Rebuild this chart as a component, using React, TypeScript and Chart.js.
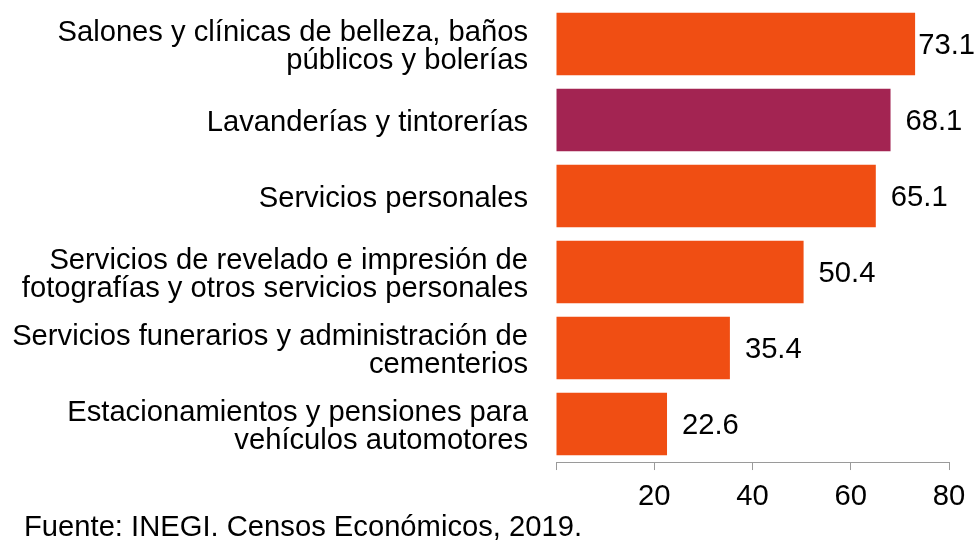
import React, { useEffect, useRef } from "react";
import { Chart, registerables } from "chart.js";

Chart.register(...registerables);

const categories: (string | string[])[] = [
  ["Salones y clínicas de belleza, baños", "públicos y bolerías"],
  "Lavanderías y tintorerías",
  "Servicios personales",
  ["Servicios de revelado e impresión de", "fotografías y otros servicios personales"],
  ["Servicios funerarios y administración de", "cementerios"],
  ["Estacionamientos y pensiones para", "vehículos automotores"],
];
const values = [73.1, 68.1, 65.1, 50.4, 35.4, 22.6];
const barColors = ["#F04E13", "#A32452", "#F04E13", "#F04E13", "#F04E13", "#F04E13"];
const xTicks = [0, 20, 40, 60, 80];
const source = "Fuente: INEGI. Censos Económicos, 2019.";

const FONT = "'Liberation Sans', Arial, sans-serif";
const FS = 29.2;

const valueLabels = {
  id: "valueLabels",
  afterLayout(chart: any) {
    if (chart.titleBlock) chart.titleBlock.left = 24;
  },
  afterDatasetsDraw(chart: any) {
    const ctx = chart.ctx;
    const meta = chart.getDatasetMeta(0);
    ctx.save();
    ctx.font = `${FS}px ${FONT}`;
    ctx.fillStyle = "#000";
    ctx.textAlign = "left";
    ctx.textBaseline = "middle";
    meta.data.forEach((bar: any, i: number) => {
      const txt = values[i].toFixed(1);
      const w = ctx.measureText(txt).width;
      const x = Math.min(bar.x + 15, chart.width - w - 1);
      ctx.fillText(txt, x, bar.y + 2);
    });
    ctx.restore();
  },
};

export default function App() {
  const ref = useRef<HTMLCanvasElement>(null);
  useEffect(() => {
    if (!ref.current) return;
    Chart.defaults.font.family = FONT;
    const chart = new Chart(ref.current, {
      type: "bar",
      data: {
        labels: categories as any,
        datasets: [
          {
            data: values,
            backgroundColor: barColors,
            borderWidth: 0,
            barPercentage: 0.82,
            categoryPercentage: 1,
          },
        ],
      },
      options: {
        indexAxis: "y",
        animation: false,
        responsive: false,
        layout: { padding: { left: 0, right: 27, top: 6, bottom: 0 } },
        plugins: {
          legend: { display: false },
          tooltip: { enabled: false },
          title: {
            display: true,
            text: source,
            position: "bottom",
            align: "start",
            color: "#000",
            font: { size: FS, weight: "normal", lineHeight: 0.8 },
            padding: { top: 8.6, bottom: 0 },
          },
        },
        scales: {
          x: {
            type: "linear",
            min: xTicks[0],
            max: xTicks[xTicks.length - 1],
            afterBuildTicks: (scale: any) => {
              scale.ticks = xTicks.map((v) => ({ value: v }));
            },
            afterFit: (scale: any) => {
              scale.height = 46;
              scale.paddingLeft = 0;
              scale.paddingRight = 0;
            },
            grid: {
              drawOnChartArea: false,
              drawTicks: true,
              tickLength: 8,
              color: "#9a9a9a",
              lineWidth: 1,
            },
            border: { display: true, color: "#9a9a9a", width: 1 },
            ticks: {
              color: "#000",
              font: { size: FS, lineHeight: 1 },
              padding: 12.5,
              maxRotation: 0,
              callback: (v: any) => (v === 0 ? "" : String(v)),
            },
          },
          y: {
            type: "category",
            afterFit: (scale: any) => {
              scale.width = 556;
              scale.paddingTop = 0;
              scale.paddingBottom = 0;
            },
            grid: { display: false, drawTicks: false },
            border: { display: false },
            ticks: {
              color: "#000",
              font: { size: FS, lineHeight: 0.95 },
              padding: 28,
              labelOffset: 3,
              autoSkip: false,
            },
          },
        },
      },
      plugins: [valueLabels],
    });
    return () => chart.destroy();
  }, []);
  return (
    <div style={{ position: "fixed", left: 0, top: 0, width: 976, height: 540, background: "#fff" }}>
      <canvas ref={ref} width={976} height={540} style={{ display: "block" }} />
    </div>
  );
}
